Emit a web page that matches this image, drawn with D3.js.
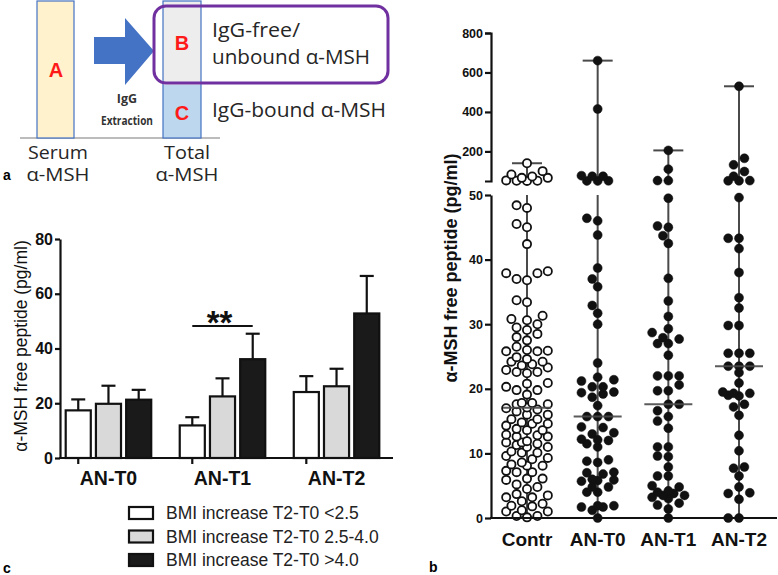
<!DOCTYPE html>
<html>
<head>
<meta charset="utf-8">
<script src="https://cdn.jsdelivr.net/npm/d3@7"></script>
<style>
  body { margin: 0; background: #fff; }
  svg { display: block; font-family: "Liberation Sans", Arial, sans-serif; }
</style>
</head>
<body>
<svg id="fig" width="778" height="575"></svg>
<script>
// ===== Data: panel c (grouped bars, mean + SEM) =====
const barGroups = ["AN-T0", "AN-T1", "AN-T2"];
const barSeries = ["BMI increase T2-T0 <2.5", "BMI increase T2-T0 2.5-4.0", "BMI increase T2-T0 >4.0"];
const barMeans = [[17.4, 19.8, 21.3], [11.9, 22.5, 36.1], [24.1, 26.2, 52.8]];
const barErrTop = [[21.4, 26.4, 24.9], [14.9, 29.1, 45.4], [29.9, 32.6, 66.5]];
const barYTicks = [0, 20, 40, 60, 80];
const barFills = ["#ffffff", "#d9d9d9", "#1a1a1a"];

// ===== Data: panel b (scatter, median + range) =====
const dotGroups = ["Contr", "AN-T0", "AN-T1", "AN-T2"];
const contrVals = [140, 100, 83, 73, 66, 66, 53, 51, 51, 50.5,
  48.4, 48.0, 45.5, 45.0, 42.4, 38.2, 37.9, 37.9, 37.0, 36.8, 33.7, 33.4,
  31.3, 30.8, 30.6, 30.0, 29.5, 29.1, 28.5, 28.0, 27.5,
  26.5, 26.0, 25.9, 25.8, 25.8, 24.9, 24.6, 24.2, 24.2, 23.8, 23.6,
  23.3, 22.9, 22.6, 22.6, 22.4, 20.9, 20.8, 20.3, 19.8, 19.8, 19.1,
  17.8, 17.8, 17.6, 17.6, 17.1, 17.0, 16.8, 16.5, 16.0, 16.0, 15.3, 15.3,
  14.8, 14.6, 14.6, 14.3, 13.8, 13.6, 13.6, 12.9, 12.8, 12.6, 12.6, 11.9, 11.7, 11.7,
  11.5, 11.3, 11.0, 11.0, 10.3, 10.1, 10.1, 9.6, 9.3, 9.1, 8.6, 8.3, 8.1, 8.1,
  7.3, 7.1, 7.1, 6.1, 6.1, 5.9, 5.2, 4.8, 4.5,
  3.7, 3.5, 3.2, 3.2, 2.6, 2.2, 1.9, 1.8, 1.2, 1.0, 1.0, 0.3, 0.3, 0.1];
const ant0Vals = [660, 415, 77, 74, 74, 51, 50.5, 50.5,
  46.4, 46.0, 43.8, 38.7, 37.0, 35.8, 32.9, 31.7, 30.0, 24.0, 21.8, 21.4, 21.2,
  20.3, 20.3, 19.5, 19.4, 19.2, 18.7, 17.4, 15.7, 15.7, 15.7, 14.1, 14.0, 13.2, 13.0,
  12.2, 12.1, 12.0, 11.5, 11.0, 9.0, 8.8, 8.6, 7.1, 7.0, 6.8, 6.0, 5.9, 5.8, 5.7,
  4.8, 4.8, 4.0, 4.0, 1.9, 1.9, 1.7, 1.7, 1.2, 0];
const ant1Vals = [205, 110, 52, 52,
  49.5, 45.2, 45.0, 43.7, 42.5, 37.1, 33.6, 31.2, 29.3, 28.7, 27.9, 27.7, 27.0, 27.0,
  25.2, 22.0, 22.0, 22.0, 20.6, 19.7, 19.7, 17.6, 17.6, 16.6, 15.7, 15.0, 13.9,
  11.0, 11.0, 9.6, 9.5, 7.9, 6.5, 6.5, 5.0, 4.8, 4.2, 4.0, 3.8, 3.5, 3.5, 3.2, 3.0,
  2.3, 2.0, 1.4, 0];
const ant2Vals = [530, 165, 132, 98, 74, 52, 51, 51,
  49.6, 43.3, 43.3, 41.7, 38.0, 34.1, 32.5, 29.8, 29.8, 25.5, 25.5, 25.5,
  23.5, 23.5, 23.5, 22.5, 20.9, 19.5, 19.3, 19.3, 19.0, 18.9, 17.6, 17.2, 15.9,
  12.8, 10.4, 7.9, 7.7, 6.5, 4.8, 3.9, 3.8, 2.9, 0, 0];
const dotValues = [contrVals, ant0Vals, ant1Vals, ant2Vals];
const lowTicks = [0, 10, 20, 30, 40, 50];
const highTicks = [200, 400, 600, 800];

const svg = d3.select("#fig");
const yLabel = "\u03b1-MSH free peptide (pg/ml)";

// ===============================
// Panel a : schema
// ===============================
const a = svg.append("g");
const blue = "#4472c4";
a.append("line").attr("x1", 20).attr("x2", 220).attr("y1", 138).attr("y2", 138)
  .attr("stroke", "#a6a6a6").attr("stroke-width", 1.5);
a.append("rect").attr("x", 37).attr("y", 1).attr("width", 37).attr("height", 137)
  .attr("fill", "#fff2cc").attr("stroke", blue).attr("stroke-width", 1.2);
a.append("rect").attr("x", 163).attr("y", 1).attr("width", 38).attr("height", 84)
  .attr("fill", "#ededed");
a.append("rect").attr("x", 163).attr("y", 85).attr("width", 38).attr("height", 53)
  .attr("fill", "#bdd7ee");
a.append("rect").attr("x", 163).attr("y", 1).attr("width", 38).attr("height", 137)
  .attr("fill", "none").attr("stroke", blue).attr("stroke-width", 1.2);
a.append("polygon")
  .attr("points", "94,37 125,37 125,18 154,51 125,85 125,64 94,64")
  .attr("fill", blue);
a.append("rect").attr("x", 154).attr("y", 6).attr("width", 234).attr("height", 77)
  .attr("rx", 12).attr("fill", "none").attr("stroke", "#7030a0").attr("stroke-width", 3);

const red = (t, x, y) => a.append("text").attr("x", x).attr("y", y).attr("text-anchor", "middle")
  .attr("font-size", 20).attr("font-weight", "bold").attr("fill", "#ff1a1a").text(t);
red("A", 56, 77); red("B", 182, 50); red("C", 182, 120);

const calib = (t, x, y, anchor, size, len) => {
  const el = a.append("text").attr("x", x).attr("y", y)
    .attr("text-anchor", anchor).attr("font-family", "'Open Sans', sans-serif")
    .attr("font-size", size).attr("fill", "#262626").text(t);
  if (len) el.attr("textLength", len).attr("lengthAdjust", "spacingAndGlyphs");
  return el;
};
calib("IgG-free/", 212, 37, "start", 20.5, 88);
calib("unbound \u03b1-MSH", 212, 64, "start", 20.5, 158);
calib("IgG-bound \u03b1-MSH", 212, 117, "start", 20.5, 174);
calib("Serum", 58, 159, "middle", 17.5, 60);
calib("\u03b1-MSH", 58, 181, "middle", 17.5, 63);
calib("Total", 187, 159, "middle", 17.5, 46);
calib("\u03b1-MSH", 187, 181, "middle", 17.5, 63);
a.append("text").attr("x", 127).attr("y", 103).attr("text-anchor", "middle")
  .attr("font-family", "'Open Sans', sans-serif").attr("font-weight", "bold")
  .attr("font-size", 12.5).attr("fill", "#333").text("IgG");
a.append("text").attr("x", 127).attr("y", 125).attr("text-anchor", "middle")
  .attr("font-family", "'Open Sans', sans-serif").attr("font-weight", "bold")
  .attr("font-size", 12.5).attr("fill", "#333")
  .attr("textLength", 52).attr("lengthAdjust", "spacingAndGlyphs").text("Extraction");
svg.append("text").attr("x", 3).attr("y", 180).attr("font-size", 14)
  .attr("font-weight", "bold").text("a");

// ===============================
// Panel c : grouped bars
// ===============================
const c = svg.append("g");
const yC = d3.scaleLinear().domain([0, 80]).range([458, 239]);
const xC = d3.scaleBand().domain(barGroups).range([60, 385]).paddingInner(0.25).paddingOuter(0.05);
const xCi = d3.scaleBand().domain(d3.range(barSeries.length)).range([0, xC.bandwidth()]).paddingInner(0.17);

barGroups.forEach((g, gi) => {
  const gg = c.append("g").attr("transform", `translate(${xC(g)},0)`);
  barMeans[gi].forEach((m, si) => {
    const cx = xCi(si) + xCi.bandwidth() / 2;
    gg.append("line").attr("x1", cx).attr("x2", cx)
      .attr("y1", yC(m)).attr("y2", yC(barErrTop[gi][si]))
      .attr("stroke", "#111").attr("stroke-width", 2.2);
    gg.append("line").attr("x1", cx - 7).attr("x2", cx + 7)
      .attr("y1", yC(barErrTop[gi][si])).attr("y2", yC(barErrTop[gi][si]))
      .attr("stroke", "#111").attr("stroke-width", 2.2);
    gg.append("rect").attr("x", xCi(si)).attr("y", yC(m))
      .attr("width", xCi.bandwidth()).attr("height", yC(0) - yC(m))
      .attr("fill", barFills[si]).attr("stroke", "#111").attr("stroke-width", 2.2);
  });
});

const axC = c.append("g").attr("transform", "translate(60,0)")
  .call(d3.axisLeft(yC).tickValues(barYTicks).tickSize(5).tickSizeOuter(0).tickPadding(2));
axC.selectAll("path, line").attr("stroke", "#111").attr("stroke-width", 2.2);
axC.selectAll("text").attr("font-size", 16).attr("font-weight", "bold").attr("fill", "#111");

c.append("line").attr("x1", 59).attr("x2", 393).attr("y1", 458).attr("y2", 458)
  .attr("stroke", "#111").attr("stroke-width", 2.2);
barGroups.forEach((g) => {
  const tx = xC(g) + xCi(0) + xCi.bandwidth() / 2;
  c.append("line").attr("x1", tx).attr("x2", tx).attr("y1", 458).attr("y2", 464)
    .attr("stroke", "#111").attr("stroke-width", 2.2);
  c.append("text").attr("x", xC(g) + xC.bandwidth() / 2).attr("y", 485)
    .attr("text-anchor", "middle").attr("font-size", 19.5).attr("font-weight", "bold")
    .attr("fill", "#111").text(g);
});

c.append("text").attr("transform", "translate(27,346) rotate(-90)")
  .attr("text-anchor", "middle").attr("font-size", 17.5).attr("fill", "#111").text(yLabel);

// significance
const sigX1 = xC("AN-T1") + xCi(0) + xCi.bandwidth() / 2;
const sigX2 = xC("AN-T1") + xCi(2) + xCi.bandwidth() / 2;
c.append("line").attr("x1", sigX1).attr("x2", sigX2).attr("y1", 326).attr("y2", 326)
  .attr("stroke", "#111").attr("stroke-width", 1.8);
c.append("text").attr("x", (sigX1 + sigX2) / 2 - 3).attr("y", 334).attr("text-anchor", "middle")
  .attr("font-size", 33).attr("font-weight", "bold").attr("fill", "#111").text("**");

// legend
barSeries.forEach((s, i) => {
  const ly = 507 + i * 23.5;
  c.append("rect").attr("x", 129).attr("y", ly).attr("width", 24).attr("height", 12)
    .attr("fill", barFills[i]).attr("stroke", "#111").attr("stroke-width", 2.2);
  c.append("text").attr("x", 166).attr("y", ly + 12).attr("font-size", 17.5)
    .attr("fill", "#222").text(s);
});
svg.append("text").attr("x", 3).attr("y", 573).attr("font-size", 14)
  .attr("font-weight", "bold").text("c");

// ===============================
// Panel b : scatter with broken axis
// ===============================
const b = svg.append("g");
const yLo = d3.scaleLinear().domain([0, 50]).range([518, 195]);
const yHi = d3.scaleLinear().domain([50, 800]).range([181, 33]);
const yB = (v) => (v <= 50 ? yLo(v) : yHi(v));
const xB = d3.scalePoint().domain(dotGroups).range([527, 739]);
const lineCol = "#4a4a4a";

function segLine(x, v0, v1) {
  const lo0 = Math.min(v0, 50), lo1 = Math.min(v1, 50);
  b.append("line").attr("x1", x).attr("x2", x).attr("y1", yLo(lo0)).attr("y2", yLo(lo1))
    .attr("stroke", lineCol).attr("stroke-width", 2);
  if (v1 > 50) {
    b.append("line").attr("x1", x).attr("x2", x).attr("y1", yHi(50)).attr("y2", yHi(v1))
      .attr("stroke", lineCol).attr("stroke-width", 2);
  }
}

// simple beeswarm: nearest free slot, limited width (overlap allowed when full)
function swarm(vals, cx, minD, step, maxOff) {
  const pts = vals.map((v) => ({ v, y: yB(v) })).sort((p, q) => q.y - p.y);
  const placed = [];
  const nSteps = Math.floor(maxOff / step);
  pts.forEach((p) => {
    let best = null, bestD = -1;
    for (let k = 0; k <= 2 * nSteps; k++) {
      const off = k === 0 ? 0 : (k % 2 ? -1 : 1) * Math.ceil(k / 2) * step;
      const x = cx + off;
      const dmin = placed.length
        ? d3.min(placed, (q) => Math.hypot(q.x - x, q.y - p.y))
        : Infinity;
      if (dmin >= minD) { best = x; break; }
      if (dmin > bestD + 0.5) { bestD = dmin; best = x; }
    }
    p.x = best;
    placed.push(p);
  });
  return placed;
}

dotGroups.forEach((g, gi) => {
  const vals = dotValues[gi];
  const cx = xB(g);
  const vmin = d3.min(vals), vmax = d3.max(vals), med = d3.median(vals);
  segLine(cx, vmin, vmax);
  [vmin, vmax].forEach((v) => {
    b.append("line").attr("x1", cx - 15).attr("x2", cx + 15).attr("y1", yB(v)).attr("y2", yB(v))
      .attr("stroke", lineCol).attr("stroke-width", 2);
  });
  const open = gi === 0;
  const pts = swarm(vals, cx, open ? 9.4 : 9, open ? 5.2 : 5.4, open ? 21 : 17);
  b.append("g").selectAll("circle").data(pts).enter().append("circle")
    .attr("cx", (d) => d.x).attr("cy", (d) => d.y)
    .attr("r", open ? 4.1 : 4.5)
    .attr("fill", open ? "#fff" : "#111")
    .attr("stroke", "#111").attr("stroke-width", open ? 1.8 : 0.5);
  b.append("line").attr("x1", cx - 24).attr("x2", cx + 24).attr("y1", yB(med)).attr("y2", yB(med))
    .attr("stroke", lineCol).attr("stroke-width", 2).attr("opacity", 0.9);
});

const axLo = b.append("g").attr("transform", "translate(491,0)")
  .call(d3.axisLeft(yLo).tickValues(lowTicks).tickSize(6).tickSizeOuter(0).tickPadding(2));
const axHi = b.append("g").attr("transform", "translate(491,0)")
  .call(d3.axisLeft(yHi).tickValues(highTicks).tickSize(6).tickSizeOuter(6).tickPadding(2));
[axLo, axHi].forEach((ax) => {
  ax.selectAll("path, line").attr("stroke", "#111").attr("stroke-width", 2.2);
  ax.selectAll("text").attr("font-size", 12.5).attr("font-weight", "bold").attr("fill", "#111");
});
b.append("line").attr("x1", 490).attr("x2", 777).attr("y1", 518).attr("y2", 518)
  .attr("stroke", "#111").attr("stroke-width", 2.2);
dotGroups.forEach((g) => {
  b.append("text").attr("x", xB(g)).attr("y", 546).attr("text-anchor", "middle")
    .attr("font-size", 19).attr("font-weight", "bold").attr("fill", "#111").text(g);
});
b.append("text").attr("transform", "translate(457,268) rotate(-90)")
  .attr("text-anchor", "middle").attr("font-size", 18).attr("font-weight", "bold")
  .attr("fill", "#111").text(yLabel);
svg.append("text").attr("x", 429).attr("y", 572).attr("font-size", 14)
  .attr("font-weight", "bold").text("b");
</script>
</body>
</html>
